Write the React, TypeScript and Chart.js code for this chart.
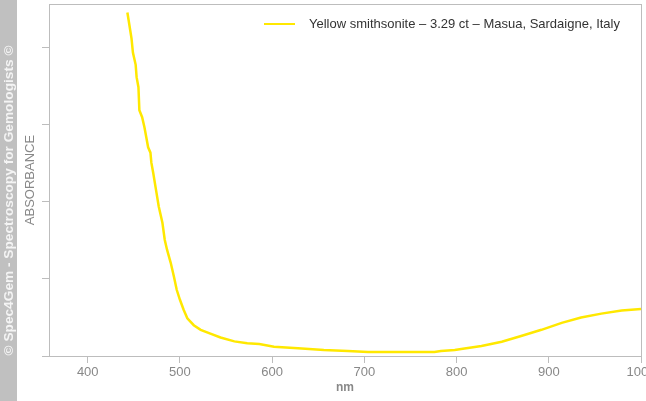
import React, { useEffect, useRef } from "react";
import { Chart, registerables } from "chart.js";

Chart.register(...registerables);

const wavelengths = [
  443, 445, 447.5, 449, 452, 453, 455, 456, 459, 461.5, 463.5, 465.5, 468, 469,
  471, 474, 477, 481, 483.5, 486, 490, 493.5, 496.5, 500, 504, 508, 515, 522.5,
  533, 544, 559, 573, 586, 602, 628, 656, 682, 704, 740, 776, 783, 798, 805, 827,
  849, 870, 892, 914, 935, 957, 979, 1000,
];
const absorbance = [
  4.46, 4.31, 4.12, 3.94, 3.78, 3.62, 3.49, 3.19, 3.1, 2.97, 2.84, 2.71, 2.64,
  2.51, 2.38, 2.16, 1.94, 1.73, 1.51, 1.38, 1.21, 1.03, 0.86, 0.73, 0.6, 0.49,
  0.4, 0.34, 0.29, 0.24, 0.19, 0.165, 0.156, 0.12, 0.1, 0.078, 0.065, 0.052,
  0.052, 0.052, 0.065, 0.078, 0.09, 0.13, 0.186, 0.26, 0.34, 0.43, 0.5, 0.55,
  0.59, 0.61,
];
const xTickValues = [400, 500, 600, 700, 800, 900, 1000];
const yTickValues = [0, 1, 2, 3, 4];
const seriesLabel = "Yellow smithsonite \u2013 3.29 ct \u2013 Masua, Sardaigne, Italy";
const watermark = "\u00A9 Spec4Gem - Spectroscopy for Gemologists \u00A9";
const xTitle = "nm";
const yTitle = "ABSORBANCE";

const LINE_COLOR = "#FFE800";
const AXIS_COLOR = "#BDBDBD";
const TEXT_COLOR = "#888888";

const decorPlugin = {
  id: "decor",
  beforeDraw(chart: any) {
    const ctx = chart.ctx;
    ctx.save();
    ctx.fillStyle = "#ffffff";
    ctx.fillRect(0, 0, chart.width, chart.height);
    ctx.fillStyle = "#C0C0C0";
    ctx.fillRect(0, 0, 17, chart.height);
    ctx.translate(9, chart.height / 2);
    ctx.rotate(-Math.PI / 2);
    ctx.fillStyle = "#F4F4F4";
    ctx.font = "bold 12px 'Liberation Sans', Arial, sans-serif";
    const w = ctx.measureText(watermark).width;
    const size = Math.max(10, Math.min(15, (12 * 310) / w));
    ctx.font = `bold ${size.toFixed(1)}px 'Liberation Sans', Arial, sans-serif`;
    ctx.textAlign = "center";
    ctx.textBaseline = "middle";
    ctx.fillText(watermark, 0, 0);
    ctx.restore();
  },
  afterDraw(chart: any) {
    const ctx = chart.ctx;
    const a = chart.chartArea;
    ctx.save();
    ctx.strokeStyle = AXIS_COLOR;
    ctx.lineWidth = 1;
    ctx.strokeRect(Math.round(a.left) + 0.5, Math.round(a.top) + 0.5, Math.round(a.right - a.left), Math.round(a.bottom - a.top));
    // legend
    ctx.strokeStyle = LINE_COLOR;
    ctx.lineWidth = 2;
    ctx.beginPath();
    ctx.moveTo(264, 24);
    ctx.lineTo(295, 24);
    ctx.stroke();
    ctx.fillStyle = "#333333";
    ctx.font = "13px 'Liberation Sans', Arial, sans-serif";
    ctx.textAlign = "left";
    ctx.textBaseline = "middle";
    ctx.fillText(seriesLabel, 309, 24);
    ctx.restore();
  },
};

export default function App() {
  const canvasRef = useRef<HTMLCanvasElement | null>(null);

  useEffect(() => {
    if (!canvasRef.current) return;
    const data = wavelengths.map((w, i) => ({ x: w, y: absorbance[i] }));
    const chart = new Chart(canvasRef.current, {
      type: "line",
      data: {
        datasets: [
          {
            label: seriesLabel,
            data,
            borderColor: LINE_COLOR,
            borderWidth: 2.5,
            pointRadius: 0,
            tension: 0,
            fill: false,
          },
        ],
      },
      options: {
        animation: false,
        responsive: false,
        maintainAspectRatio: false,
        layout: { padding: { left: 17, right: 5, top: 4, bottom: 0 } },
        plugins: {
          legend: { display: false },
          tooltip: { enabled: false },
        },
        scales: {
          x: {
            type: "linear",
            min: 358,
            max: 1000,
            afterBuildTicks: (scale: any) => {
              scale.ticks = xTickValues.map((v) => ({ value: v }));
            },
            afterFit: (scale: any) => {
              scale.height = 45;
              scale.paddingLeft = 0;
              scale.paddingRight = 0;
            },
            grid: {
              drawOnChartArea: false,
              drawTicks: true,
              tickLength: 7,
              color: AXIS_COLOR,
            },
            border: { display: true, color: AXIS_COLOR },
            ticks: {
              color: TEXT_COLOR,
              padding: 2,
              maxRotation: 0,
              font: { family: "'Liberation Sans', Arial, sans-serif", size: 13 },
              callback: (v: any) => String(v),
            },
            title: {
              display: true,
              text: xTitle,
              color: TEXT_COLOR,
              padding: { top: 0, bottom: 6 },
              font: { family: "'Liberation Sans', Arial, sans-serif", size: 12, weight: "bold" },
            },
          },
          y: {
            type: "linear",
            min: 0,
            max: 4.57,
            afterBuildTicks: (scale: any) => {
              scale.ticks = yTickValues.map((v) => ({ value: v }));
            },
            afterFit: (scale: any) => {
              scale.width = 32;
              scale.paddingTop = 0;
              scale.paddingBottom = 0;
            },
            grid: {
              drawOnChartArea: false,
              drawTicks: true,
              tickLength: 7,
              color: AXIS_COLOR,
            },
            border: { display: true, color: AXIS_COLOR },
            ticks: { display: false },
            title: {
              display: true,
              text: yTitle,
              color: TEXT_COLOR,
              padding: { top: 6, bottom: 0 },
              font: { family: "'Liberation Sans', Arial, sans-serif", size: 13 },
            },
          },
        },
      },
      plugins: [decorPlugin],
    });
    return () => chart.destroy();
  }, []);

  return (
    <div style={{ position: "fixed", left: 0, top: 0, width: 646, height: 401, background: "#fff" }}>
      <canvas ref={canvasRef} width={646} height={401} style={{ display: "block", width: 646, height: 401 }} />
    </div>
  );
}
